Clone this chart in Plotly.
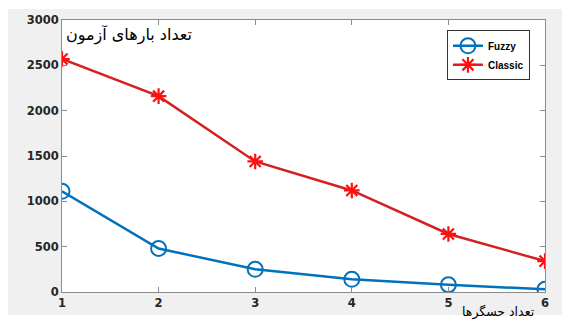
import plotly.graph_objects as go

# Number of sensors (x) and number of test runs (y) for each method
sensors = [1, 2, 3, 4, 5, 6]
fuzzy_runs = [1110, 480, 250, 140, 80, 30]
classic_runs = [2570, 2160, 1440, 1120, 640, 340]
y_ticks = [0, 500, 1000, 1500, 2000, 2500, 3000]

title_text = "تعداد بارهای آزمون"
xlabel_text = "تعداد حسگرها"

BLUE = "#0072BD"
RED = "#D42020"
STAR_RED = "#FF1010"

fig = go.Figure()

fig.add_trace(go.Scatter(
    x=sensors, y=fuzzy_runs, name="Fuzzy", mode="lines+markers",
    line=dict(color=BLUE, width=2.5),
    marker=dict(symbol="circle-open", size=15, color=BLUE, line=dict(width=2, color=BLUE)),
))
fig.add_trace(go.Scatter(
    x=sensors, y=classic_runs, name="Classic", mode="lines+markers",
    line=dict(color=RED, width=2.5),
    marker=dict(symbol="asterisk-open", size=13, color=STAR_RED, line=dict(width=2.2, color=STAR_RED)),
))

axis_common = dict(
    showgrid=False, zeroline=False, showline=True, linecolor="#8c8c8c", linewidth=1,
    mirror="allticks", ticks="inside", ticklen=5, tickcolor="#8c8c8c", automargin=False,
    tickfont=dict(family="DejaVu Sans", size=11.5, color="#262626", weight="bold"),
)

fig.update_xaxes(range=[1, 6], tickvals=sensors, **axis_common)
fig.update_yaxes(range=[0, 3000], tickvals=y_ticks, **axis_common)

# grey figure panel with a white axes area on top of it
fig.add_shape(type="rect", xref="paper", yref="paper", x0=-0.112, x1=1.05, y0=-0.085, y1=1.04,
              fillcolor="#f0f0f0", line=dict(width=0), layer="below")
fig.add_shape(type="rect", xref="x domain", yref="y domain", x0=0, x1=1, y0=0, y1=1,
              fillcolor="white", line=dict(width=0), layer="below")

fig.add_annotation(text=title_text, xref="paper", yref="paper", x=0.004, y=0.99,
                   xanchor="left", yanchor="top", showarrow=False,
                   font=dict(family="DejaVu Sans", size=16, color="black"))
fig.add_annotation(text=xlabel_text, xref="paper", yref="paper", x=0.982, y=-0.106,
                   xanchor="right", yanchor="bottom", showarrow=False, borderpad=0,
                   font=dict(family="DejaVu Sans", size=12.5, color="black"))

fig.update_layout(
    width=562, height=320,
    margin=dict(l=62, r=17, t=20, b=28),
    paper_bgcolor="white", plot_bgcolor="white",
    showlegend=True,
    legend=dict(x=0.797, y=0.962, xanchor="left", yanchor="top",
                bgcolor="white", bordercolor="#333333", borderwidth=1,
                font=dict(family="Liberation Sans", size=10, color="black", weight="bold"),
                tracegroupgap=0, itemwidth=30),
)

fig.write_html("out.html")
